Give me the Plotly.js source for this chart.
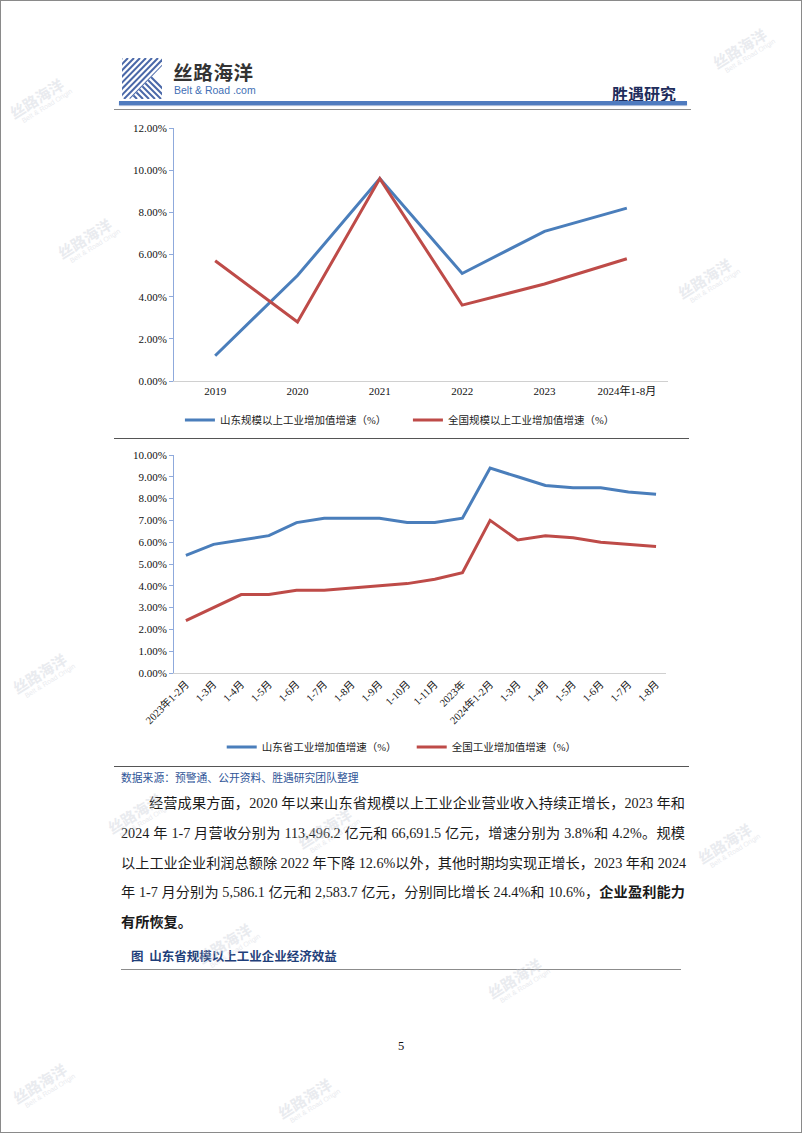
<!DOCTYPE html>
<html>
<head>
<meta charset="utf-8">
<script src="https://cdn.plot.ly/plotly-3.0.1.min.js"></script>
<style>
  html,body{margin:0;padding:0;background:#fff;}
  #page{position:relative;width:802px;height:1133px;box-sizing:border-box;border:1px solid #8a8a8a;overflow:hidden;background:#fff;
        font-family:"Liberation Serif","Noto Sans CJK SC",serif;color:#111;}
  .abs{position:absolute;}
  .hline{position:absolute;height:0;}
  .para{position:absolute;left:120px;width:564px;font-size:14.2px;line-height:29.8px;
        font-family:"Liberation Serif","Noto Sans CJK SC",serif;color:#1a1a1a;}
  .para div{text-align:justify;text-align-last:justify;white-space:nowrap;}
  .para div.last{text-align-last:left;}
  .wm{position:absolute;color:#c9ced8;opacity:0.4;font-family:"Noto Sans CJK SC",sans-serif;font-weight:bold;
      transform:rotate(-32deg);transform-origin:left center;pointer-events:none;z-index:20;white-space:nowrap;line-height:1;}
  .wm span{display:block;font-size:7px;font-weight:normal;font-family:"Liberation Sans",sans-serif;margin-left:6px;margin-top:1px;}
</style>
</head>
<body>
<div id="page">
  <!-- header -->
  <svg class="abs" style="left:121px;top:57px" width="40" height="41" viewBox="0 0 40 41">
    <defs>
      <clipPath id="tl"><polygon points="0,0 40,0 40,8 8,41 0,41"/></clipPath>
      <clipPath id="br"><polygon points="40,8 40,41 8,41"/></clipPath>
    </defs>
    <g clip-path="url(#tl)" stroke="#4a68a8" stroke-width="2">
      <line x1="-40" y1="41" x2="0" y2="0"/><line x1="-34" y1="41" x2="6" y2="0"/><line x1="-28" y1="41" x2="12" y2="0"/>
      <line x1="-22" y1="41" x2="18" y2="0"/><line x1="-16" y1="41" x2="24" y2="0"/><line x1="-10" y1="41" x2="30" y2="0"/>
      <line x1="-4" y1="41" x2="36" y2="0"/><line x1="2" y1="41" x2="42" y2="0"/><line x1="8" y1="41" x2="48" y2="0"/>
      <line x1="-46" y1="41" x2="-6" y2="0"/>
    </g>
    <g clip-path="url(#br)" stroke="#4a68a8" stroke-width="2">
      <line x1="10" y1="0" x2="51" y2="41"/><line x1="4" y1="0" x2="45" y2="41"/><line x1="-2" y1="0" x2="39" y2="41"/>
      <line x1="-8" y1="0" x2="33" y2="41"/><line x1="-14" y1="0" x2="27" y2="41"/><line x1="-20" y1="0" x2="21" y2="41"/>
      <line x1="-26" y1="0" x2="15" y2="41"/>
    </g>
  </svg>
  <div class="abs" style="left:172px;top:61px;font-family:'Noto Sans CJK SC',sans-serif;font-weight:bold;font-size:19.5px;color:#333;letter-spacing:0.7px;line-height:20px;">丝路海洋</div>
  <div class="abs" style="left:173px;top:84px;font-family:'Liberation Sans',sans-serif;font-size:10.5px;color:#3f6fb5;line-height:11px;">Belt &amp; Road .com</div>
  <div class="abs" style="left:611px;top:81px;font-family:'Noto Sans CJK SC',sans-serif;font-weight:bold;font-size:16px;color:#1f2d5c;line-height:22px;">胜遇研究</div>
  <div class="abs" style="left:118px;top:100px;width:568px;height:4px;background:#4f7bbf;box-shadow:0 1px 1px #9fb3d6;"></div>
  <div class="hline" style="left:113px;top:108px;width:577px;border-top:1px solid #8c8c8c;"></div>

  <!-- charts -->
  <div id="c1" class="abs" style="left:0;top:115px;width:802px;height:320px;"></div>
  <div class="hline" style="left:113px;top:437px;width:575px;border-top:1px solid #555;"></div>
  <div id="c2" class="abs" style="left:0;top:440px;width:802px;height:325px;"></div>
  <div class="hline" style="left:113px;top:765px;width:575px;border-top:1px solid #555;"></div>

  <!-- source -->
  <div class="abs" style="left:120px;top:769px;font-family:'Noto Sans CJK SC',sans-serif;font-size:10.8px;color:#2f5597;line-height:14px;">数据来源：预警通、公开资料、胜遇研究团队整理</div>

  <!-- paragraph -->
  <div class="para" style="top:788px;">
    <div style="padding-left:28px;">经营成果方面，2020 年以来山东省规模以上工业企业营业收入持续正增长，2023 年和</div>
    <div>2024 年 1-7 月营收分别为 113,496.2 亿元和 66,691.5 亿元，增速分别为 3.8%和 4.2%。规模</div>
    <div>以上工业企业利润总额除 2022 年下降 12.6%以外，其他时期均实现正增长，2023 年和 2024</div>
    <div>年 1-7 月分别为 5,586.1 亿元和 2,583.7 亿元，分别同比增长 24.4%和 10.6%，<b>企业盈利能力</b></div>
    <div class="last"><b>有所恢复。</b></div>
  </div>

  <div class="abs" style="left:130px;top:946px;font-family:'Noto Sans CJK SC',sans-serif;font-weight:bold;font-size:12.5px;color:#1f3f7a;line-height:18px;white-space:pre;">图  山东省规模以上工业企业经济效益</div>
  <div class="hline" style="left:120px;top:968px;width:560px;border-top:1px solid #8c8c8c;"></div>

  <div class="abs" style="left:397px;top:1037px;font-size:12.5px;line-height:16px;">5</div>

  <!-- watermarks -->
  <div class="wm" style="left:12px;top:105px;font-size:15px;">丝路海洋<span>Belt &amp; Road Origin</span></div>
  <div class="wm" style="left:715px;top:55px;font-size:15px;">丝路海洋<span>Belt &amp; Road Origin</span></div>
  <div class="wm" style="left:60px;top:245px;font-size:15px;">丝路海洋<span>Belt &amp; Road Origin</span></div>
  <div class="wm" style="left:680px;top:285px;font-size:15px;">丝路海洋<span>Belt &amp; Road Origin</span></div>
  <div class="wm" style="left:15px;top:680px;font-size:15px;">丝路海洋<span>Belt &amp; Road Origin</span></div>
  <div class="wm" style="left:110px;top:820px;font-size:15px;">丝路海洋<span>Belt &amp; Road Origin</span></div>
  <div class="wm" style="left:300px;top:835px;font-size:15px;">丝路海洋<span>Belt &amp; Road Origin</span></div>
  <div class="wm" style="left:700px;top:850px;font-size:15px;">丝路海洋<span>Belt &amp; Road Origin</span></div>
  <div class="wm" style="left:200px;top:950px;font-size:15px;">丝路海洋<span>Belt &amp; Road Origin</span></div>
  <div class="wm" style="left:490px;top:985px;font-size:15px;">丝路海洋<span>Belt &amp; Road Origin</span></div>
  <div class="wm" style="left:15px;top:1090px;font-size:15px;">丝路海洋<span>Belt &amp; Road Origin</span></div>
  <div class="wm" style="left:280px;top:1105px;font-size:15px;">丝路海洋<span>Belt &amp; Road Origin</span></div>
</div>

<script>
// ---- data ----
const years = ['2019', '2020', '2021', '2022', '2023', '2024年1-8月'];
const shandongAnnual = [1.2, 5.0, 9.6, 5.1, 7.1, 8.2];
const nationalAnnual = [5.7, 2.8, 9.6, 3.6, 4.6, 5.8];
const annualNames = ['山东规模以上工业增加值增速（%）', '全国规模以上工业增加值增速（%）'];

const periods = ['2023年1-2月', '1-3月', '1-4月', '1-5月', '1-6月', '1-7月', '1-8月', '1-9月', '1-10月', '1-11月',
                 '2023年', '2024年1-2月', '1-3月', '1-4月', '1-5月', '1-6月', '1-7月', '1-8月'];
const shandongMonthly = [5.4, 5.9, 6.1, 6.3, 6.9, 7.1, 7.1, 7.1, 6.9, 6.9, 7.1, 9.4, 9.0, 8.6, 8.5, 8.5, 8.3, 8.2];
const nationalMonthly = [2.4, 3.0, 3.6, 3.6, 3.8, 3.8, 3.9, 4.0, 4.1, 4.3, 4.6, 7.0, 6.1, 6.3, 6.2, 6.0, 5.9, 5.8];
const monthlyNames = ['山东省工业增加值增速（%）', '全国工业增加值增速（%）'];

const BLUE = '#4a7ebb';
const RED = '#be4b48';
const FONT = 'Liberation Serif, Noto Sans CJK SC, serif';

// ---- chart 1 ----
const t1 = [
  {x: years, y: shandongAnnual, name: annualNames[0], type: 'scatter', mode: 'lines',
   line: {color: BLUE, width: 3}},
  {x: years, y: nationalAnnual, name: annualNames[1], type: 'scatter', mode: 'lines',
   line: {color: RED, width: 3}}
];
const l1 = {
  width: 802, height: 320,
  margin: {l: 173, r: 135, t: 12, b: 55},
  paper_bgcolor: 'rgba(0,0,0,0)', plot_bgcolor: 'rgba(0,0,0,0)',
  font: {family: FONT, size: 11, color: '#111'},
  showlegend: true,
  legend: {orientation: 'h', xref: 'paper', x: 0.012, xanchor: 'left', yref: 'container', y: 0.05, yanchor: 'middle',
           font: {family: FONT, size: 10.5, color: '#222'}, entrywidth: 183, entrywidthmode: 'pixels',
           bgcolor: 'rgba(0,0,0,0)', itemwidth: 30, tracegroupgap: 0},
  xaxis: {type: 'category', range: [-0.5, 5.5], showline: true, linecolor: '#d0d0d0', linewidth: 1,
          ticks: '', showgrid: false, zeroline: false, tickfont: {size: 11}, fixedrange: true},
  yaxis: {range: [0, 12], dtick: 2, tickformat: '.2f', ticksuffix: '%', showline: true,
          linecolor: '#8faadc', linewidth: 1, ticks: 'outside', ticklen: 4, tickcolor: '#8faadc',
          showgrid: false, zeroline: false, tickfont: {size: 11}, fixedrange: true}
};
Plotly.newPlot('c1', t1, l1, {staticPlot: true, displayModeBar: false});

// ---- chart 2 ----
const idx = periods.map((_, i) => i);
const t2 = [
  {x: idx, y: shandongMonthly, name: monthlyNames[0], type: 'scatter', mode: 'lines',
   line: {color: BLUE, width: 3}},
  {x: idx, y: nationalMonthly, name: monthlyNames[1], type: 'scatter', mode: 'lines',
   line: {color: RED, width: 3}}
];
const l2 = {
  width: 802, height: 325,
  margin: {l: 173, r: 137, t: 14, b: 93},
  paper_bgcolor: 'rgba(0,0,0,0)', plot_bgcolor: 'rgba(0,0,0,0)',
  font: {family: FONT, size: 11, color: '#111'},
  showlegend: true,
  legend: {orientation: 'h', xref: 'paper', x: 0.097, xanchor: 'left', yref: 'container', y: 0.0585, yanchor: 'middle',
           font: {family: FONT, size: 10.5, color: '#222'}, entrywidth: 145, entrywidthmode: 'pixels',
           bgcolor: 'rgba(0,0,0,0)', itemwidth: 30, tracegroupgap: 0},
  xaxis: {range: [-0.43, 17.36], tickmode: 'array', tickvals: idx, ticktext: periods, tickangle: -45,
          showline: true, linecolor: '#d0d0d0', linewidth: 1, ticks: '', showgrid: false, zeroline: false,
          tickfont: {size: 10.5}, fixedrange: true},
  yaxis: {range: [0, 10], dtick: 1, tickformat: '.2f', ticksuffix: '%', showline: true,
          linecolor: '#8faadc', linewidth: 1, ticks: 'outside', ticklen: 4, tickcolor: '#8faadc',
          showgrid: false, zeroline: false, tickfont: {size: 11}, fixedrange: true}
};
Plotly.newPlot('c2', t2, l2, {staticPlot: true, displayModeBar: false});
</script>
</body>
</html>
